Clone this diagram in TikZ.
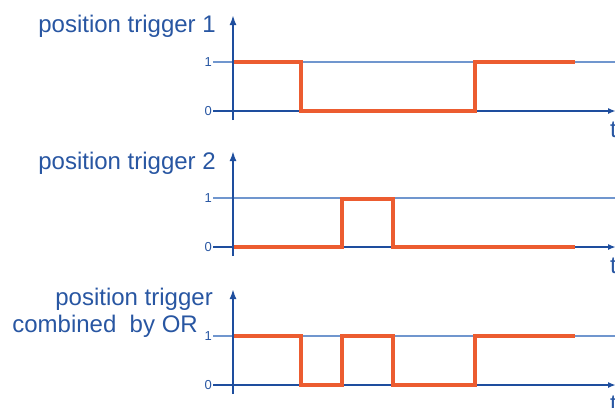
\documentclass[tikz,border=0pt]{standalone}
\usepackage{fontspec}
\setmainfont{Liberation Sans}
\usetikzlibrary{arrows.meta}

\definecolor{txtblue}{RGB}{40,86,162}
\definecolor{axblue}{RGB}{30,78,158}
\definecolor{lvlblue}{RGB}{112,150,206}
\definecolor{sigorange}{RGB}{236,92,48}

\tikzset{
    axisline/.style={axblue, line width=2.2pt},
    levelline/.style={lvlblue, line width=1.2pt},
    sigline/.style={sigorange, line width=4.6pt, line join=miter},
    ticklabel/.style={txtblue, font=\fontsize{13}{13}\selectfont, inner sep=1pt, anchor=east},
    titlelabel/.style={txtblue, font=\fontsize{24}{28}\selectfont, inner sep=0pt, anchor=base east},
    timelabel/.style={txtblue, font=\fontsize{24}{28}\selectfont, inner sep=0pt, anchor=base west}
}

\begin{document}
\begin{tikzpicture}[x=1pt, y=-1pt]
        \useasboundingbox (0,0) rectangle (615,407);

        % Draw level lines and time axes
        \foreach \n/\z in {1/111, 2/247, 3/385} {
            \coordinate (zero\n) at (233,\z);
            \coordinate (high\n) at (233,\z-49);
            \draw[levelline] (213,\z-49) -- (615,\z-49);
            \node[ticklabel] (one\n) at (213,\z-49) {1};
            \node[ticklabel] (nil\n) at (213,\z) {0};
            \draw[axisline, -{Latex[length=8pt, width=6pt]}] (nil\n.east) -- (616,\z);
            \node[timelabel] (t\n) at (610,\z+26) {t};
        }

        % Draw titles
        \node[titlelabel] (title1) at (216,32) {position trigger 1};
        \node[titlelabel] (title2) at (216,169) {position trigger 2};
        \node[titlelabel] (title3) at (213,305) {position trigger};
        \node[titlelabel] (title3b) at (198,332) {combined\ \ by OR};

        % Draw signals
        \draw[sigline] (233,62) -| (301,111) -| (475,62) -- (575,62);
        \draw[sigline] (233,247) -| (342,199) -| (393,247) -- (575,247);
        \draw[sigline] (233,336) -| (301,385) -| (342,336) -| (393,385) -| (475,336) -- (575,336);

        % Draw value axes
        \foreach \n in {1,2,3} {
            \draw[axisline, -{Latex[length=10pt, width=7pt]}] ([yshift=-9pt]zero\n) -- ([yshift=96pt]zero\n);
        }
    \end{tikzpicture}
\end{document}
